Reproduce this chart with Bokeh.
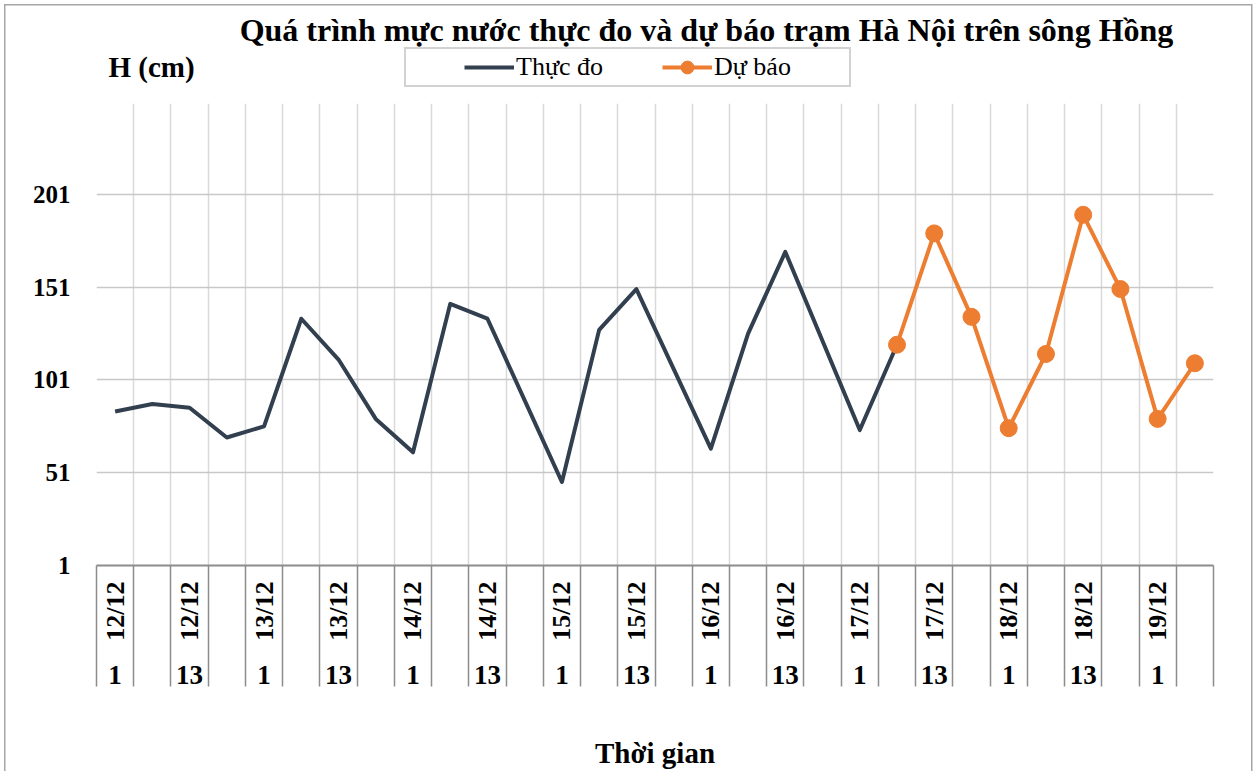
import math
from bokeh.plotting import figure
from bokeh.layouts import column
from bokeh.models import Range1d, FixedTicker, LinearAxis, Legend, LegendItem, Label
from bokeh.embed import file_html
from bokeh.resources import INLINE

# ---- data ----
time_labels = [
    "12/12 1", "12/12 7", "12/12 13", "12/12 19",
    "13/12 1", "13/12 7", "13/12 13", "13/12 19",
    "14/12 1", "14/12 7", "14/12 13", "14/12 19",
    "15/12 1", "15/12 7", "15/12 13", "15/12 19",
    "16/12 1", "16/12 7", "16/12 13", "16/12 19",
    "17/12 1", "17/12 7", "17/12 13", "17/12 19",
    "18/12 1", "18/12 7", "18/12 13", "18/12 19",
    "19/12 1", "19/12 7",
]
measured = [84, 88, 86, 70, 76, 134, 112, 80, 62, 142, 134, 90, 46, 128, 150, 107,
            64, 126, 170, 122, 74, 120]
forecast = [120, 180, 135, 75, 115, 190, 150, 80, 110]
y_ticks = [1, 51, 101, 151, 201]
labelled_hours = ["1", "13"]

FONT = "Liberation Serif"
DARK = "#323F4F"
ORANGE = "#ED7D31"
TABLE = "#8c8c8c"
W, H_TOP, H_MAIN = 1256, 103, 668

n = len(time_labels)
x_meas = list(range(len(measured)))
x_fc = list(range(len(measured) - 1, len(measured) - 1 + len(forecast)))
label_idx = [i for i, t in enumerate(time_labels) if t.split(" ")[1] in labelled_hours]
boundaries = [i - 0.5 for i in range(n + 1)]
NAN = float("nan")

# ---------------- header: title, unit label, legend ----------------
# (its plotting frame is aligned with the main chart's frame, x = 96..1213)
hd = figure(width=W, height=H_TOP, output_backend="svg", toolbar_location=None,
            x_range=Range1d(0, 1), y_range=Range1d(0, 1),
            x_axis_type=None, y_axis_type=None, min_border=0)
hd.grid.visible = False
hd.outline_line_color = None
hd.background_fill_color = None
hd.border_fill_color = None

hd.add_layout(Label(x=610, y=74, x_units="screen", y_units="screen",
                    text="Quá trình mực nước thực đo và dự báo trạm Hà Nội trên sông Hồng",
                    text_font=FONT, text_font_size="32px", text_font_style="bold",
                    text_align="center", text_baseline="middle", text_color="black"))
hd.add_layout(Label(x=12, y=37, x_units="screen", y_units="screen", text="H (cm)",
                    text_font=FONT, text_font_size="29px", text_font_style="bold",
                    text_baseline="middle", text_color="black"))

# legend keys (no data of their own)
k_meas = hd.line(x=[NAN], y=[NAN], line_color=DARK, line_width=4)
k_fc = hd.line(x=[NAN], y=[NAN], line_color=ORANGE, line_width=4)
k_fc_pts = hd.scatter(x=[NAN], y=[NAN], marker="circle", size=17,
                      fill_color=ORANGE, line_color=ORANGE)

legend = Legend(items=[LegendItem(label="Thực đo", renderers=[k_meas]),
                       LegendItem(label="Dự báo", renderers=[k_fc, k_fc_pts])],
                location=(308, 16), orientation="horizontal",
                glyph_width=50, glyph_height=32, label_standoff=2, label_width=133,
                spacing=13, padding=2, margin=0,
                border_line_color="#a6a6a6", border_line_width=2,
                background_fill_color="white", background_fill_alpha=1,
                label_text_font=FONT, label_text_font_size="26px", label_text_color="black",
                title=" ", title_location="left", title_standoff=26,
                title_text_font=FONT, title_text_font_size="26px")
hd.add_layout(legend)

# ---------------- main chart ----------------
p = figure(width=W, height=H_MAIN, output_backend="svg", toolbar_location=None,
           x_range=Range1d(-0.5, n - 0.5), y_range=Range1d(1, 250),
           min_border_left=96, min_border_right=43, min_border_top=0, min_border_bottom=204)
p.outline_line_color = None
p.background_fill_color = "white"
p.border_fill_color = None

# grids
p.xgrid.ticker = FixedTicker(ticks=boundaries)
p.xgrid.grid_line_color = "#d9d9d9"
p.xgrid.grid_line_width = 1.5
p.ygrid.ticker = FixedTicker(ticks=y_ticks)
p.ygrid.grid_line_color = "#c8c8c8"
p.ygrid.grid_line_width = 1.5

# y axis
ya = p.yaxis[0]
ya.ticker = FixedTicker(ticks=y_ticks)
ya.axis_line_color = None
ya.major_tick_line_color = None
ya.minor_tick_line_color = None
ya.major_tick_out = 0
ya.major_tick_in = 0
ya.major_label_standoff = 26
ya.major_label_text_font = FONT
ya.major_label_text_font_size = "25px"
ya.major_label_text_font_style = "bold"
ya.major_label_text_color = "black"

# date axis (first below)
xa = p.xaxis[0]
xa.ticker = FixedTicker(ticks=label_idx)
xa.major_label_overrides = {i: time_labels[i].split(" ")[0] for i in label_idx}
xa.major_label_orientation = math.pi / 2
xa.major_tick_out = 0
xa.major_tick_in = 0
xa.major_tick_line_color = None
xa.minor_tick_line_color = None
xa.axis_line_color = TABLE
xa.axis_line_width = 2
xa.major_label_standoff = 16
xa.major_label_text_font = FONT
xa.major_label_text_font_size = "26px"
xa.major_label_text_font_style = "bold"
xa.major_label_text_color = "black"

# hour axis (second below)
ha = LinearAxis(ticker=FixedTicker(ticks=label_idx),
                major_label_overrides={i: time_labels[i].split(" ")[1] for i in label_idx})
ha.axis_line_color = None
ha.major_tick_line_color = None
ha.minor_tick_line_color = None
ha.major_tick_out = 0
ha.major_tick_in = 0
ha.major_label_standoff = 22
ha.major_label_text_font = FONT
ha.major_label_text_font_size = "27px"
ha.major_label_text_font_style = "bold"
ha.major_label_text_color = "black"
p.add_layout(ha, "below")

# cell borders of the category table + axis title (third below)
ca = LinearAxis(ticker=FixedTicker(ticks=boundaries),
                major_label_overrides={b: "" for b in boundaries})
ca.axis_line_color = None
ca.minor_tick_line_color = None
ca.major_tick_out = 0
ca.major_tick_in = 121
ca.major_tick_line_color = TABLE
ca.major_tick_line_width = 1.5
ca.major_label_standoff = 0
ca.axis_label = "Thời gian"
ca.axis_label_text_font = FONT
ca.axis_label_text_font_size = "29px"
ca.axis_label_text_font_style = "bold"
ca.axis_label_text_color = "black"
ca.axis_label_standoff = 50
p.add_layout(ca, "below")

# series
p.line(x_meas, measured, line_color=DARK, line_width=4, line_join="round")
p.line(x_fc, forecast, line_color=ORANGE, line_width=4, line_join="round")
p.scatter(x_fc, forecast, marker="circle", size=17, fill_color=ORANGE, line_color=ORANGE)

line = "linear-gradient(#a6a6a6, #a6a6a6)"
page = column(hd, p, spacing=0, styles={
    "background": (f"{line} 4px 4px / 1.5px 100% no-repeat, "
                   f"{line} 4px 4px / 1248px 1.5px no-repeat, "
                   f"{line} 1251px 4px / 1.5px 100% no-repeat, white"),
})

open("out.html", "w").write(file_html(page, INLINE))
